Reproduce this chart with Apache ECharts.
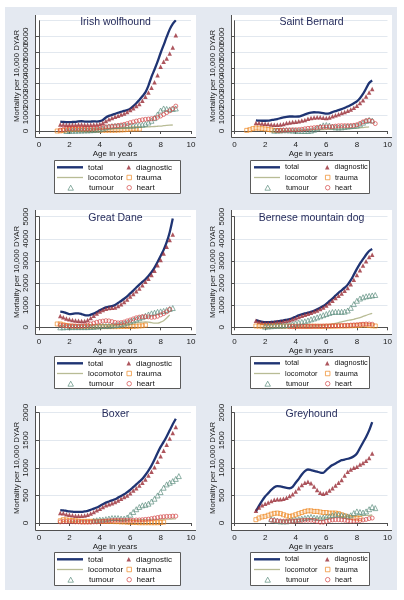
<!DOCTYPE html>
<html><head><meta charset="utf-8">
<script src="https://cdn.jsdelivr.net/npm/echarts@6/dist/echarts.min.js"></script>
<style>html,body{margin:0;padding:0;background:#fff;}#c{width:404px;height:600px;}</style>
</head><body><div id="c"></div>
<script>
const _ = null;
// sampling ages (years)
const ages = [0.8,1.0,1.2,1.4,1.6,1.8,2.0,2.2,2.4,2.6,2.8,3.0,3.2,3.4,3.6,3.8,4.0,4.2,4.4,4.6,4.8,5.0,5.2,5.4,5.6,5.8,6.0,6.2,6.4,6.6,6.8,7.0,7.2,7.4,7.6,7.8,8.0,8.2,8.4,8.6,8.8,9.0,9.2,9.4];
const xTicks = [0,2,4,6,8,10];
const breeds = ['Irish wolfhound','Saint Bernard','Great Dane','Bernese mountain dog','Boxer','Greyhound'];
const causes = ['total','diagnostic','locomotor','trauma','tumour','heart'];
const yMax = [7000,7000,5000,5000,2000,2000];
const yStep = [1000,1000,1000,1000,500,500];

// Irish wolfhound
const iwTotal = [_,_,_, 590,570,560,560,570,580,610,620,600,590, 600,610,600,620,700,860,960,1020,1090,1160, 1220,1280,1330,1420,1580,1760,1960,2200,2450,2880, 3440,3900,4400,4950,5450,5970,6450,6800,7030];
const iwDiag = [_,_,_, 420,410,400,400,400,400,410,420,400,390, 400,410,420,440,520,640,740,820,900,970, 1040,1110,1200,1330,1450,1580,1720,1920,2170,2450, 2750,3100,3540,4070,4390,4600,4920,5300,6080];
const iwLoco = [_,_,_,_,_, 50,45,40,40,35,40,45,50,60,70, 80,95,110,120,130,140,150,155,165,175, 185,195,200,210,225,240,255,265,275,285, 300,315,335,355,370,380];
const iwTrauma = [_,_, 0,10,30,60,90,100,100,90,80,70, 60,50,50,50,50,50,50,50,50,50, 60,70,80,100,120,130,130,130];
const iwTumour = [_,_,_,_,_, 0,10,20,20,30,30,40,40,50,60, 80,100,160,230,280,310,320,330,340,340, 340,340,350,370,390,400,450,540,650,820, 1050,1300,1430,1400,1370,1400,1430];
const iwHeart = [_,_,_, 60,100,130,150,160,170,170,160,150,150, 160,170,190,210,230,260,280,300,320,350, 380,420,470,530,580,630,670,710,740,760, 780,810,870,950,1050,1170,1280,1420,1580];

// Saint Bernard
const sbTotal = [_,_,_, 670,660,650,650,660,690,720,760,810,860, 900,920,920,910,920,980,1050,1120,1170,1190, 1180,1170,1140,1100,1120,1200,1260,1320,1390,1470, 1550,1650,1760,1880,2080,2350,2700,3050,3200];
const sbDiag = [_,_,_, 510,500,480,460,440,410,400,400,410,450, 500,540,570,590,620,660,700,770,820,860, 880,870,840,820,850,930,1000,1070,1140,1210, 1280,1370,1480,1600,1780,1950,2190,2450,2660];
const sbLoco = [_,_,_,_,_,_,_,_,_,_,_, 20,20,30,30,30,40,40,40,50,50, 50,60,70,80,90,100,100,110,120,120, 130,140,150,160,170,180,200,220,240,260];
const sbTrauma = [40,80,150,190,180,150,130,100,70,40,30,20];
const sbTumour = [_,_,_,_,_,_,_,_,_, 20,30,40,50,50,40,30,20,10,0, 0,0,20,80,170,280,360,380,350,280, 230,220,230,260,290,310,330,350,420,530, 640,700,660];
const sbHeart = [_,_,_,_,_,_,_,_,_,_, 40,40,50,60,70,80,80,90,110,140, 170,190,210,230,240,250,250,260,280,310, 330,340,340,340,340,360,400,480,580,650, 680,620,470];

// Great Dane
const gdTotal = [_,_,_, 710,690,640,600,610,630,630,600,550,540, 570,620,690,770,840,900,940,960,1010,1100, 1190,1290,1400,1530,1660,1800,1930,2050,2170,2320, 2490,2700,2950,3220,3500,3850,4300,4920];
const gdDiag = [_,_,_, 510,450,400,360,330,310,300,290,290,330, 420,520,620,710,780,840,870,880,900,960, 1040,1140,1260,1390,1510,1630,1750,1900,2060,2200, 2360,2560,2800,3040,3340,3640,3950,4200];
const gdLoco = [_,_,_,_,_,_,_,_,_,_,_,_,_,_,_,_,_,_, 30,40,60,90,120,150,170,190,200,200, 210,220,230,240,230,210,190,190,230,300, 420,560];
const gdTrauma = [_,_, 150,150,110,80,60,50,40,30,30,30, 30,30,30,30,30,30,30,30,30,30, 30,40,40,40,40,40,50,60,70,100];
const gdTumour = [_,_,_, 0,0,10,10,10,10,10,10,10,10, 20,20,40,50,60,60,60,80,90,110, 140,170,210,260,310,360,410,460,520,580, 630,660,700,720,740,780,830,870];
const gdHeart = [_,_,_, 100,80,70,60,60,60,60,60,70,100, 150,190,230,260,280,300,290,260,220,200, 210,240,290,330,380,430,460,480,480,470, 450,460,500,560,620,700,810];

// Bernese mountain dog
const bmTotal = [_,_,_, 320,280,250,230,230,240,250,270,290,310, 340,370,420,480,540,590,630,660,700,750, 810,880,960,1060,1180,1300,1430,1560,1670,1790, 1930,2130,2380,2640,2880,3080,3280,3450,3540];
const bmDiag = [_,_,_, 300,250,210,190,190,210,230,240,250,270, 290,320,360,410,470,520,570,610,660,710, 760,830,900,980,1090,1200,1320,1430,1530,1650, 1780,1950,2150,2360,2580,2790,2990,3180,3280];
const bmLoco = [_,_,_,_,_,_,_,_,_,_,_,_,_,_, 30,30,40,40,50,50,60,60,70,70, 80,90,100,120,150,180,210,250,280,310, 330,360,400,440,490,540,590,630];
const bmTrauma = [_,_,_, 60,55,50,50,45,45,50,50,45,45, 50,50,45,45,50,50,45,45,50,50, 50,45,45,50,50,55,55,60,60,60, 65,70,75,80,90,110,100,80,70,60];
const bmTumour = [_,_,_,_,_,_, 30,40,50,60,70,75,80,90,110,140, 180,210,240,270,310,360,400,450,500,550, 600,650,690,700,700,700,710,760,880,1050, 1200,1300,1360,1400,1420,1440,1460];
const bmHeart = [_,_,_,_,_,_,_,_,_,_,_,_,_,_, 30,30,30,35,35,40,40,40,45,45, 50,55,60,60,65,70,75,80,85,90, 100,110,120,130,140,150,150,140];

// Boxer
const bxTotal = [_,_,_, 235,230,220,210,205,200,200,200,210,220, 240,260,280,310,340,370,390,410,430,460, 490,520,560,600,650,700,750,800,870,950, 1040,1150,1270,1380,1470,1570,1680,1790,1890];
const bxDiag = [_,_,_, 180,175,160,150,140,130,130,130,135,150, 170,200,230,260,290,320,340,360,380,410, 440,470,500,540,590,630,680,730,790,860, 930,1010,1110,1210,1310,1420,1530,1630,1740];
const bxLoco = [_,_,_,_,_,_, 30,30,30,30,35,35,35,40,40,40, 40,45,45,45,50,50,50,50,50,50, 55,55,55,60,60,60,60,65,65,65, 70,70,70,70,75,75];
const bxTrauma = [_,_,_, 40,60,55,50,45,40,35,30,30,30, 30,30,30,30,30,30,30,30,25,25, 20,20,15,15,10,10,5,5,5,5, 5,5,5,10,15];
const bxTumour = [_,_,_,_,_,_,_,_,_,_,_,_,_,_, 40,50,60,60,70,80,90,90,90,80, 80,100,150,200,250,290,320,330,350,390, 440,500,560,640,700,730,760,800,850];
const bxHeart = [_,_,_, 20,25,25,25,25,20,20,15,15,15, 15,20,20,25,30,35,40,45,50,50, 50,50,50,50,50,55,55,60,65,70, 80,90,100,110,115,120,120,125,125];

// Greyhound
const ghTotal = [_,_,_, 210,310,400,480,540,600,650,670,665,650, 635,630,655,730,800,880,940,970,960,945, 930,915,910,960,1010,1050,1080,1110,1140,1150, 1165,1180,1210,1260,1360,1460,1560,1680,1830];
const ghDiag = [_,_,_, 220,280,320,350,370,400,420,430,430,440, 460,490,520,570,630,690,730,750,720,660, 600,550,530,550,590,630,680,730,780,860, 930,970,1000,1020,1060,1090,1130,1180,1260];
const ghLoco = [_,_,_,_,_,_,_,_,_,_,_, 40,40,45,50,55,60,65,70,70,75, 80,80,85,90,90,95,100,100,105,110, 110,115,120,120,125,130,130,135,140,140, 145];
const ghTrauma = [_,_,_, 60,90,110,120,140,160,175,180,170,150, 130,120,130,150,170,190,210,220,220,210, 210,200,190,190,180,180,180,170,150,130, 110,100,90,90,80];
const ghTumour = [_,_,_,_,_,_,_,_, 70,60,40,30,30,30,40,50,60,70, 80,90,100,110,100,90,90,100,110,120, 140,150,150,140,130,120,140,180,210,200, 190,210,250,290,270];
const ghHeart = [_,_,_,_,_,_,_,_, 50,45,40,35,30,30,30,30,35,40, 45,50,50,50,45,30,15,15,30,45, 55,60,60,55,50,40,35,35,40,45, 55,65,80,90];

const panelData = [
  [iwTotal, iwDiag, iwLoco, iwTrauma, iwTumour, iwHeart],
  [sbTotal, sbDiag, sbLoco, sbTrauma, sbTumour, sbHeart],
  [gdTotal, gdDiag, gdLoco, gdTrauma, gdTumour, gdHeart],
  [bmTotal, bmDiag, bmLoco, bmTrauma, bmTumour, bmHeart],
  [bxTotal, bxDiag, bxLoco, bxTrauma, bxTumour, bxHeart],
  [ghTotal, ghDiag, ghLoco, ghTrauma, ghTumour, ghHeart]
];

// ---------- layout & style ----------
const FONT = '"Liberation Sans", Arial, Helvetica, sans-serif';
const BG = '#e4e9f1';
const AXIS = '#505050';
const cols = [
  {x0:39, x1:191, px0:35, px1:196, lx:54, lw:126, keyL:57, markL:126.5, lf:8},
  {x0:234.5, x1:387.5, px0:231, px1:392, lx:250, lw:119, keyL:254, markL:325, lf:7.4}
];
const rows = [
  {t:20.7, b:131, pt:15, pb:137, ly:160, lh:33},
  {t:216.7, b:327.3, pt:210, pb:334, ly:356, lh:32},
  {t:412.7, b:523, pt:406, pb:530, ly:552, lh:33}
];
const styles = {
  total: {kind:'line', color:'#1f3473', width:2.3},
  diagnostic: {kind:'scatter', symbol:'triangle', size:4.5, fill:'#982b35'},
  locomotor: {kind:'line', color:'#b8bc95', width:1.3},
  trauma: {kind:'scatter', symbol:'rect', size:4, stroke:'#ee8a25'},
  tumour: {kind:'scatter', symbol:'triangle', size:5, stroke:'#5f8f80'},
  heart: {kind:'scatter', symbol:'circle', size:4, stroke:'#d44a4a'}
};
// legend slots: [cause, column(0 key area / 1 marker), row, icon, w, h, textPadLeft]
const legendSlots = [
  ['total',0,0,'rect',26,2.4,0],
  ['locomotor',0,1,'rect',26,1.3,0],
  ['tumour',0,2,'triangle',5.5,5,10.5],
  ['diagnostic',1,0,'triangle',4.5,4.5,0],
  ['trauma',1,1,'rect',4.5,4.5,0],
  ['heart',1,2,'circle',4.5,4.5,0]
];

function pts(arr){
  const out = [];
  ages.forEach((a,i)=>{ const v = arr[i]; if (v !== null && v !== undefined) out.push([a, v]); });
  return out;
}

const grid = [], xAxis = [], yAxis = [], series = [], legend = [];
const graphic = [{type:'rect', shape:{x:5, y:7, width:392, height:583}, style:{fill:BG}, z:-20, silent:true}];

breeds.forEach((breed, p) => {
  const c = cols[p % 2], r = rows[Math.floor(p / 2)];
  grid.push({left:c.x0, top:r.t, width:c.x1 - c.x0, height:r.b - r.t, containLabel:false, outerBoundsMode:'none'});
  xAxis.push({
    type:'value', gridIndex:p, min:0, max:10, interval:2, offset:r.pb - r.b,
    axisLine:{show:true, lineStyle:{color:AXIS, width:1}},
    axisTick:{show:true, length:3, lineStyle:{color:AXIS}},
    axisLabel:{fontSize:8, color:'#1a1a1a', margin:4, fontFamily:FONT, formatter:v => String(v)},
    splitLine:{show:false},
    name:'Age in years', nameLocation:'middle', nameGap:11.5,
    nameTextStyle:{fontSize:8, color:'#1a1a1a', fontFamily:FONT}
  });
  yAxis.push({
    type:'value', gridIndex:p, min:0, max:yMax[p], interval:yStep[p], offset:c.x0 - c.px0,
    axisLine:{show:true, lineStyle:{color:AXIS, width:1}},
    axisTick:{show:true, length:3, lineStyle:{color:AXIS}},
    axisLabel:{fontSize:8, color:'#1a1a1a', margin:5, rotate:90, fontFamily:FONT, hideOverlap:false, formatter:v => String(v)},
    splitLine:{show:true, lineStyle:{color:'#e2e8ef', width:1}},
    name:'Mortality per 10,000 DYAR', nameLocation:'middle', nameGap:13.5, nameRotate:90,
    nameTextStyle:{fontSize:7.8, color:'#1a1a1a', fontFamily:FONT}
  });
  causes.forEach((cause, k) => {
    const s = styles[cause];
    const data = pts(panelData[p][k]);
    if (s.kind === 'line') {
      series.push({name:cause, type:'line', xAxisIndex:p, yAxisIndex:p, data,
        symbol:'none', showSymbol:false, smooth:0.3, silent:true,
        lineStyle:{color:s.color, width:s.width}, itemStyle:{color:s.color}, z:3});
    } else {
      series.push({name:cause, type:'scatter', xAxisIndex:p, yAxisIndex:p, data,
        symbol:s.symbol, symbolSize:s.size, silent:true,
        itemStyle: s.fill ? {color:s.fill} : {color:'rgba(255,255,255,0)', borderColor:s.stroke, borderWidth:0.9},
        z:3});
    }
  });
  // plot region and frame
  graphic.push({type:'rect', shape:{x:c.px0, y:r.pt, width:c.px1 - c.px0, height:r.pb - r.pt}, style:{fill:'#ffffff'}, z:-19, silent:true});
  graphic.push({type:'polyline', shape:{points:[[c.px0 + 0.5, r.pt], [c.px0 + 0.5, r.pb + 0.5], [c.px1, r.pb + 0.5]]}, style:{stroke:AXIS, lineWidth:1, fill:null}, z:5, silent:true});
  // legend box
  graphic.push({type:'rect', shape:{x:c.lx + 0.5, y:r.ly + 0.5, width:c.lw, height:r.lh}, style:{fill:'#ffffff', stroke:'#5a5a5a', lineWidth:1}, z:-18, silent:true});
  // panel title
  graphic.push({type:'text', x:(c.px0 + c.px1) / 2, y:r.t + 1.3, z:10, silent:true,
    style:{text:breed, fontSize:10.5, fontFamily:FONT, fill:'#262c5c', align:'center', verticalAlign:'middle'}});
  legendSlots.forEach(([name, col, row, icon, w, h, pad]) => {
    const rowCenter = r.ly + 7.3 + row * 10.2;
    let left = col === 0 ? c.keyL : c.markL;
    if (name === 'tumour') left = c.keyL + 10.5;
    legend.push({orient:'horizontal', padding:0, selectedMode:false,
      left, top:rowCenter - 5, itemWidth:w, itemHeight:h, icon, data:[name],
      itemStyle:{borderWidth:0.9},
      textStyle:{fontSize:c.lf, color:'#111', fontFamily:FONT, lineHeight:10, padding:[0,0,0,pad]}});
  });
});

const chart = echarts.init(document.getElementById('c'), null, {renderer:'canvas'});
chart.setOption({
  animation:false,
  backgroundColor:'#ffffff',
  grid, xAxis, yAxis, series, legend, graphic
});
</script>
</body></html>
